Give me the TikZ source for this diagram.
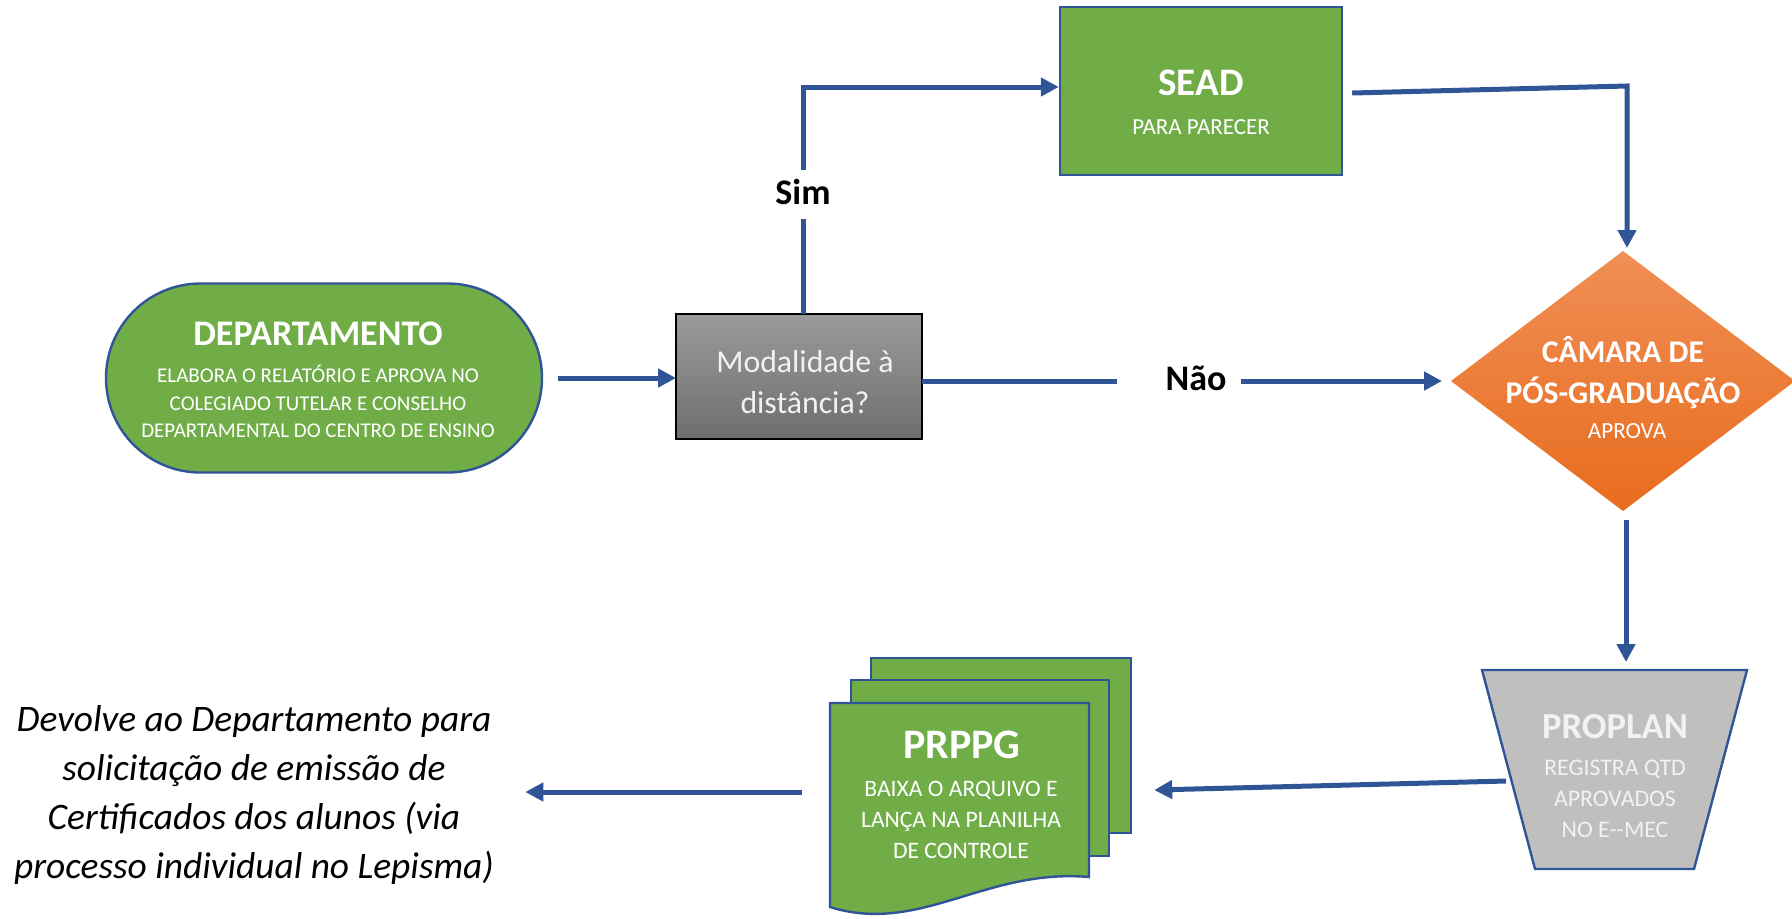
\documentclass[tikz,border=0pt]{standalone}
\usepackage{fontspec}
\setmainfont{Carlito}
\usetikzlibrary{arrows.meta,shapes.geometric,shapes.misc,calc}
\definecolor{grn}{HTML}{70AD47}
\definecolor{blu}{HTML}{2F5597}
\definecolor{orgA}{HTML}{F08F55}
\definecolor{orgB}{HTML}{E86C1E}
\definecolor{gryA}{HTML}{9B9B9B}
\definecolor{gryB}{HTML}{6E6E6E}
\definecolor{gryC}{HTML}{BFBFBF}
\definecolor{txw}{HTML}{F2F2F2}
\newcommand{\fs}[2]{\fontsize{#1pt}{#2pt}\selectfont}
\begin{document}
\begin{tikzpicture}[x=0.5pt,y=-0.5pt,
  conn/.style={draw=blu,line width=2.5pt},
  arr/.style={conn,-{Triangle[length=9pt,width=9pt]}},
  shp/.style={draw=blu,line width=1.2pt,fill=grn,inner sep=0pt},
  ghost/.style={inner sep=0pt,outer sep=0pt},
  lbl/.style={anchor=base,inner sep=0pt,text=white},
  lblk/.style={anchor=base,inner sep=0pt,text=black,font=\fs{18}{18}\bfseries},
]
\path[use as bounding box] (0,0) rectangle (1792,918);

% DEPARTAMENTO
\node[shp,rounded rectangle,minimum width=218pt,minimum height=94.5pt] (dept) at (324,378) {};
\node[lbl,font=\fs{18}{18}\bfseries] (d0) at (318,345) {DEPARTAMENTO};
\node[lbl,font=\fs{10.5}{10.5}] (d1) at (318,382) {ELABORA O RELATÓRIO E APROVA NO};
\node[lbl,font=\fs{10.5}{10.5}] (d2) at (318,410) {COLEGIADO TUTELAR E CONSELHO};
\node[lbl,font=\fs{10.5}{10.5}] (d3) at (318,437) {DEPARTAMENTAL DO CENTRO DE ENSINO};

% Modalidade
\node[draw=black,line width=0.6pt,top color=gryA,bottom color=gryB,minimum width=123pt,minimum height=62.5pt,ghost] (modal) at (799,376.5) {};
\node[lbl,text=txw,font=\fs{15.9}{15.9}] (m1) at (805,372) {Modalidade à};
\node[lbl,text=txw,font=\fs{15.9}{15.9}] (m2) at (805,413) {distância?};

% SEAD
\node[shp,minimum width=141pt,minimum height=84pt] (sead) at (1201,91) {};
\node[lbl,font=\fs{19.5}{19.5}\bfseries] (s1) at (1201,95) {SEAD};
\node[lbl,font=\fs{11.5}{11.5}] (s2) at (1201,134) {PARA PARECER};

% CAMARA
\node[diamond,top color=orgA,bottom color=orgB,minimum width=172pt,minimum height=130pt,ghost] (cam) at (1623,381) {};
\node[lbl,font=\fs{15.8}{15.8}\bfseries] (c1) at (1623,362) {CÂMARA DE};
\node[lbl,font=\fs{15.8}{15.8}\bfseries] (c2) at (1623,403) {PÓS-GRADUAÇÃO};
\node[lbl,font=\fs{11.6}{11.6}] (c3) at (1627,438) {APROVA};

% PROPLAN
\node[ghost,minimum width=132.5pt,minimum height=99.5pt] (proplan) at (1614.5,769.5) {};
\draw[draw=blu,line width=1.2pt,fill=gryC] (proplan.north west) -- (proplan.north east)
  -- ([xshift=-26.5pt]proplan.south east) -- ([xshift=26.5pt]proplan.south west) -- cycle;
\node[lbl,text=txw,font=\fs{18.3}{18.3}\bfseries] (p0) at (1615,738) {PROPLAN};
\node[lbl,text=txw,font=\fs{11.9}{11.9}] (p1) at (1615,775) {REGISTRA QTD};
\node[lbl,text=txw,font=\fs{11.9}{11.9}] (p2) at (1615,806) {APROVADOS};
\node[lbl,text=txw,font=\fs{11.9}{11.9}] (p3) at (1615,837) {NO E-\kern0pt-MEC};

% PRPPG stack
\node[shp,minimum width=130pt,minimum height=87.5pt] (prppg3) at (1001,745.5) {};
\node[shp,minimum width=129pt,minimum height=88pt] (prppg2) at (980,768) {};
\node[ghost,minimum width=129.5pt,minimum height=87pt] (prppg) at (959.5,790) {};
\draw[draw=blu,line width=1.2pt,fill=grn] (prppg.north west) -- (prppg.north east) -- (prppg.south east)
  .. controls ($(prppg.south east)+(-104,-9)$) and ($(prppg.south west)+(90,58)$) .. ($(prppg.south west)+(0,30)$) -- cycle;
\node[lbl,font=\fs{21}{21}\bfseries] (r0) at (962,758) {PRPPG};
\node[lbl,font=\fs{11.8}{11.8}] (r1) at (961,796) {BAIXA O ARQUIVO E};
\node[lbl,font=\fs{11.8}{11.8}] (r2) at (961,827) {LANÇA NA PLANILHA};
\node[lbl,font=\fs{11.8}{11.8}] (r3) at (961,858) {DE CONTROLE};

% Devolve text
\node[align=center,inner sep=0pt,font=\fs{18.7}{24.5}\itshape] (devolve) at (254,795)
  {Devolve ao Departamento para\\solicitação de emissão de\\Certificados dos alunos (via\\processo individual no Lepisma)};

% labels
\node[lblk] (sim) at (803,204) {Sim};
\node[lblk] (nao) at (1196,390) {Não};
\coordinate (simb) at (803,219);
\coordinate (simt) at (803,170);
\coordinate (naol) at (1117,381);
\coordinate (naor) at (1241,381);
\coordinate (sc) at (1627,86);

% connectors
\draw[arr] ($(dept.east)+(15,0)$) -- (modal.west |- dept.east);
\draw[conn] ([xshift=2pt]modal.north) -- (simb);
\draw[arr] (simt) |- ([yshift=2pt]sead.west);
\draw[conn] ([yshift=-2.25pt]modal.east) -- (naol);
\draw[arr] (naor) -- ([xshift=-4.5pt]cam.west);
\draw[arr] ([xshift=4.5pt,yshift=-1pt]sead.east) -- (sc) -- ($(sc |- cam.north)+(0,-3)$);
\draw[arr] ($(cam.south)+(3,9)$) -- ($(cam.south |- proplan.north)+(3,-8)$);
\draw[arr] ([xshift=12pt,yshift=-5.75pt]proplan.west) -- ($(prppg3.east |- prppg.center)+(22,0)$);
\draw[arr] ($(prppg.west)+(-28,2)$) -- ($(devolve.east |- prppg.west)+(31,2)$);
\end{tikzpicture}
\end{document}
